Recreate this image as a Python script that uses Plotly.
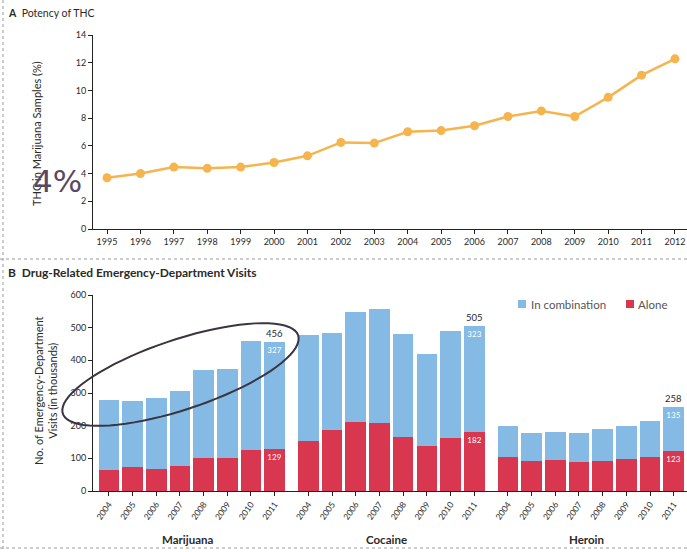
import numpy as np
import plotly.graph_objects as go

# ---------------- data ----------------
thc_years = list(range(1995, 2013))
thc_pct = [3.7, 4.0, 4.47, 4.38, 4.47, 4.8, 5.28, 6.25, 6.2, 7.02, 7.1, 7.45,
           8.12, 8.52, 8.12, 9.5, 11.1, 12.28]

ed_years = ['2004', '2005', '2006', '2007', '2008', '2009', '2010', '2011']
drugs = ['Marijuana', 'Cocaine', 'Heroin']
marijuana_alone = [64, 72, 67, 77, 100, 100, 125, 129]
marijuana_comb = [215, 204, 219, 229, 270, 273, 335, 327]
cocaine_alone = [154, 187, 212, 209, 166, 139, 163, 182]
cocaine_comb = [324, 298, 337, 348, 315, 281, 326, 323]
heroin_alone = [105, 92, 95, 89, 92, 97, 105, 123]
heroin_comb = [95, 85, 86, 88, 98, 103, 110, 135]

alone_by_drug = [marijuana_alone, cocaine_alone, heroin_alone]
comb_by_drug = [marijuana_comb, cocaine_comb, heroin_comb]

# ---------------- style ----------------
ORANGE = '#F5B44E'
BLUE = '#84BAE4'
RED = '#D8374F'
TXT = '#2a2a2a'
FONT = 'Lato'

W, H = 687, 552
L, R, T, B = 93, 0, 35, 61
PW, PH = W - L - R, H - T - B


def px(x):
    return (x - L) / PW


def py(y):
    return (H - B - y) / PH


group_offset = [0.0, 8.42, 16.84]
bar_w = 0.87

fig = go.Figure()

# Panel A line
fig.add_trace(go.Scatter(
    x=thc_years, y=thc_pct, mode='lines+markers',
    line=dict(color=ORANGE, width=2.5),
    marker=dict(color=ORANGE, size=9),
    xaxis='x', yaxis='y', showlegend=False, hoverinfo='skip'))

# Panel B stacked bars
pos_all, alone_all, comb_all, tick_text = [], [], [], []
alone_txt, comb_txt = [], []
for g, (a, c) in enumerate(zip(alone_by_drug, comb_by_drug)):
    for i, yr in enumerate(ed_years):
        pos_all.append(group_offset[g] + i)
        alone_all.append(a[i])
        comb_all.append(c[i])
        tick_text.append(yr)
        last = (i == len(ed_years) - 1)
        alone_txt.append(str(a[i]) if last else '')
        comb_txt.append(str(c[i]) if last else '')

fig.add_trace(go.Bar(
    x=pos_all, y=alone_all, width=bar_w, marker=dict(color=RED, line_width=0),
    text=alone_txt, textposition='inside', insidetextanchor='end', textangle=0,
    textfont=dict(color='white', size=8, family=FONT),
    name='Alone', xaxis='x2', yaxis='y2', showlegend=False, hoverinfo='skip'))
fig.add_trace(go.Bar(
    x=pos_all, y=comb_all, width=bar_w, marker=dict(color=BLUE, line_width=0),
    text=comb_txt, textposition='inside', insidetextanchor='end', textangle=0,
    textfont=dict(color='white', size=8, family=FONT),
    name='In combination', xaxis='x2', yaxis='y2', showlegend=False, hoverinfo='skip'))

annotations = []
# totals above the 2011 bars
for g in range(3):
    i = len(ed_years) - 1
    tot = alone_by_drug[g][i] + comb_by_drug[g][i]
    annotations.append(dict(x=group_offset[g] + i, y=tot, xref='x2', yref='y2',
                            text=str(tot), showarrow=False, yanchor='bottom', yshift=1,
                            xanchor='center',
                            font=dict(size=9.5, color=TXT, family=FONT)))
# group labels
for g, name in enumerate(drugs):
    annotations.append(dict(x=group_offset[g] + (len(ed_years) - 1) / 2 - 0.2, y=py(539),
                            xref='x2', yref='paper', text='<b>%s</b>' % name,
                            xanchor='center', yanchor='middle',
                            showarrow=False, font=dict(size=11.5, color=TXT, family=FONT)))

# panel titles
annotations.append(dict(x=px(6), y=py(13), xref='paper', yref='paper', xanchor='left',
                        yanchor='middle',
                        text='<b>A</b>  Potency of THC', showarrow=False,
                        font=dict(size=10.5, color=TXT, family=FONT)))
annotations.append(dict(x=px(6), y=py(272), xref='paper', yref='paper', xanchor='left',
                        yanchor='middle',
                        text='<b>B  Drug-Related Emergency-Department Visits</b>', showarrow=False,
                        font=dict(size=12, color=TXT, family=FONT)))
# axis titles
annotations.append(dict(x=px(37), y=py(134), xref='paper', yref='paper', textangle=-90,
                        xanchor='center', yanchor='middle',
                        text='THC in Marijuana Samples (%)', showarrow=False,
                        font=dict(size=11, color=TXT, family=FONT)))
annotations.append(dict(x=px(45), y=py(390), xref='paper', yref='paper', textangle=-90,
                        xanchor='center', yanchor='middle',
                        text='No. of Emergency-Department<br>Visits (in thousands)', showarrow=False,
                        font=dict(size=11, color=TXT, family=FONT)))
# legend (manual)
annotations.append(dict(x=px(529), y=py(304), xref='paper', yref='paper', xanchor='left',
                        yanchor='middle',
                        text='In combination', showarrow=False,
                        font=dict(size=11.5, color='#555', family=FONT)))
annotations.append(dict(x=px(636), y=py(304), xref='paper', yref='paper', xanchor='left',
                        yanchor='middle',
                        text='Alone', showarrow=False,
                        font=dict(size=11.5, color='#555', family=FONT)))
# handwritten note
annotations.append(dict(x=px(57), y=py(181), xref='paper', yref='paper',
                        xanchor='center', yanchor='middle',
                        text='4%', showarrow=False,
                        font=dict(size=31, color='#5a4860', family='DejaVu Sans')))

shapes = []
shapes.append(dict(type='rect', xref='paper', yref='paper', x0=px(518), x1=px(526),
                   y0=py(308), y1=py(300), fillcolor=BLUE, line_width=0))
shapes.append(dict(type='rect', xref='paper', yref='paper', x0=px(626), x1=px(634),
                   y0=py(308), y1=py(300), fillcolor=RED, line_width=0))
# scan border lines
shapes.append(dict(type='line', xref='paper', yref='paper', x0=px(0), x1=px(687),
                   y0=py(259), y1=py(259), line=dict(color='#9a9a9a', width=1, dash='dot')))
shapes.append(dict(type='line', xref='paper', yref='paper', x0=px(0), x1=px(687),
                   y0=py(548), y1=py(548), line=dict(color='#9a9a9a', width=1, dash='dot')))
shapes.append(dict(type='line', xref='paper', yref='paper', x0=px(3), x1=px(3),
                   y0=py(0), y1=py(552), line=dict(color='#9a9a9a', width=1, dash='dot')))
# hand-drawn ellipse
cx, cy, a_, b_, ang = 180.5, 374.5, 124, 35, np.deg2rad(18.4)
t = np.linspace(0, 2 * np.pi, 80)
ex = cx + a_ * np.cos(t) * np.cos(ang) + b_ * np.sin(t) * np.sin(ang)
ey = cy - a_ * np.cos(t) * np.sin(ang) + b_ * np.sin(t) * np.cos(ang)
path = 'M ' + ' L '.join('%.4f,%.4f' % (px(xx), py(yy)) for xx, yy in zip(ex, ey)) + ' Z'
shapes.append(dict(type='path', xref='paper', yref='paper', path=path,
                   line=dict(color='#3a3540', width=2)))

axis_common = dict(showline=True, linecolor='#222', linewidth=1, ticks='outside',
                   ticklen=4, tickcolor='#222', showgrid=False, zeroline=False,
                   tickfont=dict(size=9, color=TXT, family=FONT))

fig.update_layout(
    width=W, height=H, margin=dict(l=L, r=R, t=T, b=B),
    paper_bgcolor='white', plot_bgcolor='white',
    barmode='stack', bargap=0,
    xaxis=dict(domain=[0, 1], anchor='y', range=[1994.58, 2012.36],
               tickvals=thc_years, ticktext=[str(y) for y in thc_years], **axis_common),
    yaxis=dict(domain=[py(229), 1], anchor='x', range=[0, 14], tickvals=list(range(0, 15, 2)),
               **axis_common),
    xaxis2=dict(domain=[0, 1], anchor='y2', range=[-0.667, 24.4], tickvals=pos_all,
                ticktext=tick_text, tickangle=-55, **axis_common),
    yaxis2=dict(domain=[0, py(295)], anchor='x2', range=[0, 600],
                tickvals=list(range(0, 601, 100)), **axis_common),
    annotations=annotations, shapes=shapes,
)
fig.update_xaxes(tickfont=dict(size=8.5), selector=dict(anchor='y2'))

fig.write_html('out.html', config={'displayModeBar': False},
               post_script="document.body.style.margin='0';document.body.style.overflow='hidden';")
